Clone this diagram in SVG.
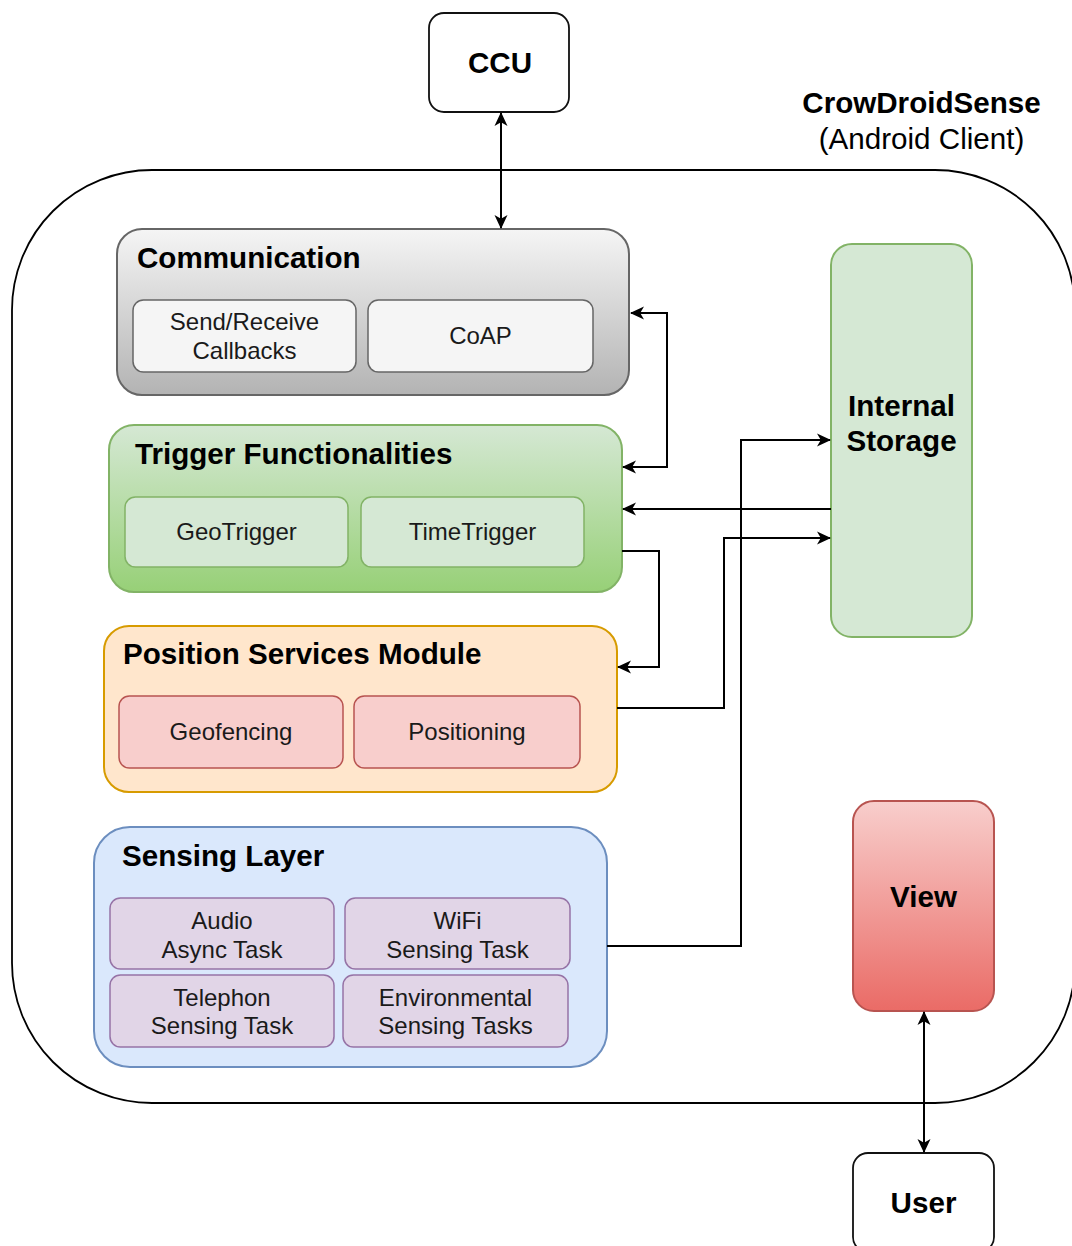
<svg xmlns="http://www.w3.org/2000/svg" width="1072" height="1246" viewBox="0 0 1072 1246">
  <defs>
    <linearGradient id="gGray" x1="0" y1="0" x2="0" y2="1">
      <stop offset="0" stop-color="#f5f5f5"/>
      <stop offset="1" stop-color="#b3b3b3"/>
    </linearGradient>
    <linearGradient id="gGreen" x1="0" y1="0" x2="0" y2="1">
      <stop offset="0" stop-color="#d5e8d4"/>
      <stop offset="1" stop-color="#97d077"/>
    </linearGradient>
    <linearGradient id="gRed" x1="0" y1="0" x2="0" y2="1">
      <stop offset="0" stop-color="#f8cecc"/>
      <stop offset="1" stop-color="#ea6b66"/>
    </linearGradient>
    <marker id="arrow" viewBox="0 0 14 14" refX="13" refY="7" markerWidth="14" markerHeight="14" markerUnits="userSpaceOnUse" orient="auto-start-reverse">
      <path d="M0,0.5 L14,7 L0,13.5 L3.8,7 Z" fill="#000"/>
    </marker>
  </defs>
  <style>
    text { font-family: "Liberation Sans", Arial, sans-serif; fill: #000; }
    .title { font-size: 29.6px; font-weight: bold; }
    .label { font-size: 24px; text-anchor: middle; fill: #1a1a1a; }
    .big { font-size: 29.6px; font-weight: bold; text-anchor: middle; }
    .plain { fill: #fff; stroke: #111; stroke-width: 1.8; }
    .comm { fill: url(#gGray); stroke: #666666; stroke-width: 2; }
    .commSub { fill: #f5f5f5; stroke: #666666; stroke-width: 1.5; }
    .trig { fill: url(#gGreen); stroke: #82b366; stroke-width: 2; }
    .trigSub { fill: #d5e8d4; stroke: #82b366; stroke-width: 1.5; }
    .pos { fill: #ffe6cc; stroke: #d79b00; stroke-width: 2; }
    .posSub { fill: #f8cecc; stroke: #b85450; stroke-width: 1.5; }
    .sens { fill: #dae8fc; stroke: #6c8ebf; stroke-width: 2; }
    .sensSub { fill: #e1d5e7; stroke: #9673a6; stroke-width: 1.5; }
    .store { fill: #d5e8d4; stroke: #82b366; stroke-width: 2; }
    .view { fill: url(#gRed); stroke: #b85450; stroke-width: 2; }
    .edge { fill: none; stroke: #000; stroke-width: 2; }
  </style>

  <rect width="1072" height="1246" fill="#ffffff"/>

  <!-- Android client boundary -->
  <g id="client">
    <rect x="12" y="170" width="1063" height="933" rx="140" ry="140" fill="none" stroke="#000" stroke-width="1.8"/>
    <text class="big" x="921.5" y="112.5">CrowDroidSense</text>
    <text x="921.5" y="148.5" font-size="29.6" text-anchor="middle">(Android Client)</text>
  </g>

  <g id="ccu">
    <rect class="plain" x="429" y="13" width="140" height="99" rx="15" ry="15"/>
    <text class="big" x="500" y="72.5">CCU</text>
  </g>

  <g id="communication">
    <rect class="comm" x="117" y="229" width="512" height="166" rx="25" ry="25"/>
    <text class="title" x="137" y="267.5">Communication</text>
    <rect class="commSub" x="133" y="300" width="223" height="72" rx="10.5" ry="10.5"/>
    <text class="label" x="244.5" y="330.4">Send/Receive</text>
    <text class="label" x="244.5" y="359.2">Callbacks</text>
    <rect class="commSub" x="368" y="300" width="225" height="72" rx="10.5" ry="10.5"/>
    <text class="label" x="480.5" y="344.4">CoAP</text>
  </g>

  <g id="trigger">
    <rect class="trig" x="109" y="425" width="513" height="167" rx="25" ry="25"/>
    <text class="title" x="135" y="463.5">Trigger Functionalities</text>
    <rect class="trigSub" x="125" y="497" width="223" height="70" rx="10.5" ry="10.5"/>
    <text class="label" x="236.5" y="540.4">GeoTrigger</text>
    <rect class="trigSub" x="361" y="497" width="223" height="70" rx="10.5" ry="10.5"/>
    <text class="label" x="472.5" y="540.4">TimeTrigger</text>
  </g>

  <g id="position">
    <rect class="pos" x="104" y="626" width="513" height="166" rx="25" ry="25"/>
    <text class="title" x="123" y="663.5">Position Services Module</text>
    <rect class="posSub" x="119" y="696" width="224" height="72" rx="10.5" ry="10.5"/>
    <text class="label" x="231" y="740.4">Geofencing</text>
    <rect class="posSub" x="354" y="696" width="226" height="72" rx="10.5" ry="10.5"/>
    <text class="label" x="467" y="740.4">Positioning</text>
  </g>

  <g id="sensing">
    <rect class="sens" x="94" y="827" width="513" height="240" rx="36" ry="36"/>
    <text class="title" x="122" y="866">Sensing Layer</text>
    <rect class="sensSub" x="110" y="898" width="224" height="71" rx="10.5" ry="10.5"/>
    <text class="label" x="222" y="928.8">Audio</text>
    <text class="label" x="222" y="957.6">Async Task</text>
    <rect class="sensSub" x="345" y="898" width="225" height="71" rx="10.5" ry="10.5"/>
    <text class="label" x="457.5" y="928.8">WiFi</text>
    <text class="label" x="457.5" y="957.6">Sensing Task</text>
    <rect class="sensSub" x="110" y="975" width="224" height="72" rx="10.5" ry="10.5"/>
    <text class="label" x="222" y="1005.6">Telephon</text>
    <text class="label" x="222" y="1034.4">Sensing Task</text>
    <rect class="sensSub" x="343" y="975" width="225" height="72" rx="10.5" ry="10.5"/>
    <text class="label" x="455.5" y="1005.6">Environmental</text>
    <text class="label" x="455.5" y="1034.4">Sensing Tasks</text>
  </g>

  <g id="storage">
    <rect class="store" x="831" y="244" width="141" height="393" rx="21" ry="21"/>
    <text class="big" x="901.5" y="415.5">Internal</text>
    <text class="big" x="901.5" y="451">Storage</text>
  </g>

  <g id="view">
    <rect class="view" x="853" y="801" width="141" height="210" rx="21" ry="21"/>
    <text class="big" x="923.5" y="907">View</text>
  </g>

  <g id="user">
    <rect class="plain" x="853" y="1153" width="141" height="99" rx="15" ry="15"/>
    <text class="big" x="923.5" y="1212.5">User</text>
  </g>

  <!-- connectors -->
  <g id="connectors">
    <path class="edge" d="M501,113 V228" marker-start="url(#arrow)" marker-end="url(#arrow)"/>
    <path class="edge" d="M631,313 H667 V467 H623" marker-start="url(#arrow)" marker-end="url(#arrow)"/>
    <path class="edge" d="M831,509 H623" marker-end="url(#arrow)"/>
    <path class="edge" d="M622,551 H659 V667 H618" marker-end="url(#arrow)"/>
    <path class="edge" d="M617,708 H724 V538 H830" marker-end="url(#arrow)"/>
    <path class="edge" d="M607,946 H741 V440 H830" marker-end="url(#arrow)"/>
    <path class="edge" d="M924,1012 V1152" marker-start="url(#arrow)" marker-end="url(#arrow)"/>
  </g>
</svg>
